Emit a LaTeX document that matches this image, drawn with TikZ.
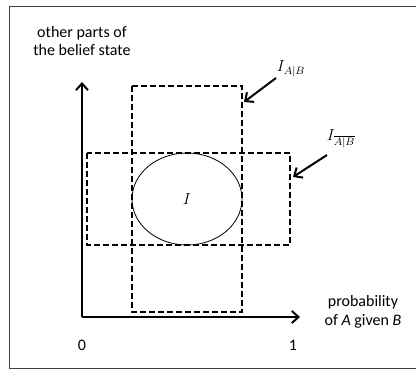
\documentclass[tikz,border=0pt]{standalone}
\usepackage{amsmath}
\usepackage{fontspec}
\setmainfont{Carlito}
\usetikzlibrary{arrows.meta}

\begin{document}
\begin{tikzpicture}[x=0.75pt,y=0.75pt]
				\tikzstyle{every node}+=[inner sep=0pt]
				\tikzstyle{axis}=[line width=1.5pt,-{Straight Barb[length=5pt,width=9pt]}]
				\tikzstyle{pointer}=[line width=1.5pt,-{Straight Barb[length=5pt,width=9pt]}]
				\tikzstyle{region}=[line width=1.5pt,dash pattern=on 4.5pt off 2.25pt]
				\tikzstyle{txt}=[font=\fontsize{12}{14}\selectfont,align=center]
				\tikzstyle{lab}=[font=\fontsize{12}{14}\selectfont]
				\useasboundingbox (0,0) rectangle (416,-371);
				\draw [black!75] (417,-6) -- (9,-6) -- (9,-368) -- (417,-368);
				\coordinate (O) at (82,-317);
				\coordinate (ytip) at (82,-82);
				\coordinate (xtip) at (300,-317);
				\draw [axis] (O) -- (ytip);
				\draw [axis] (O) -- (xtip);
				\node [txt] (ylab) at (82,-41) {other parts of\\the belief state};
				\node [txt] (xlab) at (363,-312) {probability\\of \textit{A} given \textit{B}};
				\node [txt] (zero) at (82,-345) {0};
				\node [txt] (one) at (293,-345) {1};
				\draw [region] (132,-86) rectangle (242,-312);
				\draw [region] (87,-153) rectangle (290,-245);
				\draw [black,line width=0.6pt] (187,-199) ellipse [x radius=55,y radius=46];
				\node [lab] (info) at (187,-199) {$I$};
				\node [lab] (labAB) at (291,-69) {$I_{A|B}$};
				\node [lab] (labnotAB) at (341,-139) {$I_{\overline{A|B}}$};
				\coordinate (fromAB) at (276,-78);
				\coordinate (toAB) at (244,-102);
				\coordinate (fromnotAB) at (327,-155);
				\coordinate (tonotAB) at (293,-177);
				\draw [pointer] (fromAB) -- (toAB);
				\draw [pointer] (fromnotAB) -- (tonotAB);
\end{tikzpicture}
\end{document}
